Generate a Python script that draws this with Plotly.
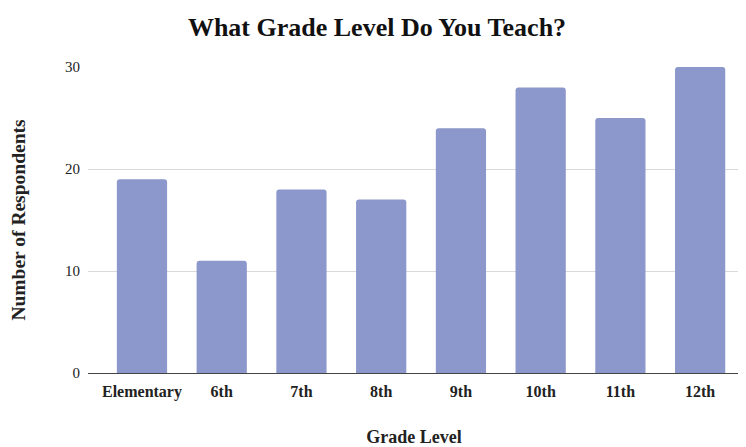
import plotly.graph_objects as go

categories = ["Elementary", "6th", "7th", "8th", "9th", "10th", "11th", "12th"]
respondents = [19, 11, 18, 17, 24, 28, 25, 30]
y_ticks = [0, 10, 20, 30]

serif = "Liberation Serif, DejaVu Serif, serif"

fig = go.Figure(go.Bar(
    x=categories, y=respondents,
    marker=dict(color="#8c97cb", line=dict(width=0)),
))

# the page body has an 8px margin, so the figure is sized/positioned to compensate
fig.update_layout(
    width=738, height=439,
    margin=dict(l=80, r=6, t=59, b=74, autoexpand=False),
    paper_bgcolor="white", plot_bgcolor="white",
    bargap=0.37,
    barcornerradius=3,
    showlegend=False,
    title=dict(text="<b>What Grade Level Do You Teach?</b>", x=0.5, xanchor="center",
               y=0.957, yanchor="middle",
               font=dict(family=serif, size=26, color="#111")),
    font=dict(family=serif, color="#222"),
    xaxis=dict(
        range=[-0.677, 7.5],
        title=dict(text="<b>Grade Level</b>", font=dict(size=18, color="#222"), standoff=30),
        tickfont=dict(size=16, color="#222"),
        tickprefix="<b>", ticksuffix="</b>",
        showline=False, ticks="outside", ticklen=4, tickcolor="white",
        automargin=False,
    ),
    yaxis=dict(
        range=[0, 30], tickvals=y_ticks,
        title=dict(text="<b>Number of Respondents</b>", font=dict(size=19.5, color="#222"), standoff=52),
        tickfont=dict(size=15, color="#222"),
        tickprefix="<b>", ticksuffix="</b>",
        showgrid=True, gridcolor="#d9d9d9", gridwidth=1,
        zeroline=True, zerolinecolor="#444", zerolinewidth=1,
        ticks="outside", ticklen=4, tickcolor="white",
        automargin=False,
    ),
)

fig.write_html("out.html")
